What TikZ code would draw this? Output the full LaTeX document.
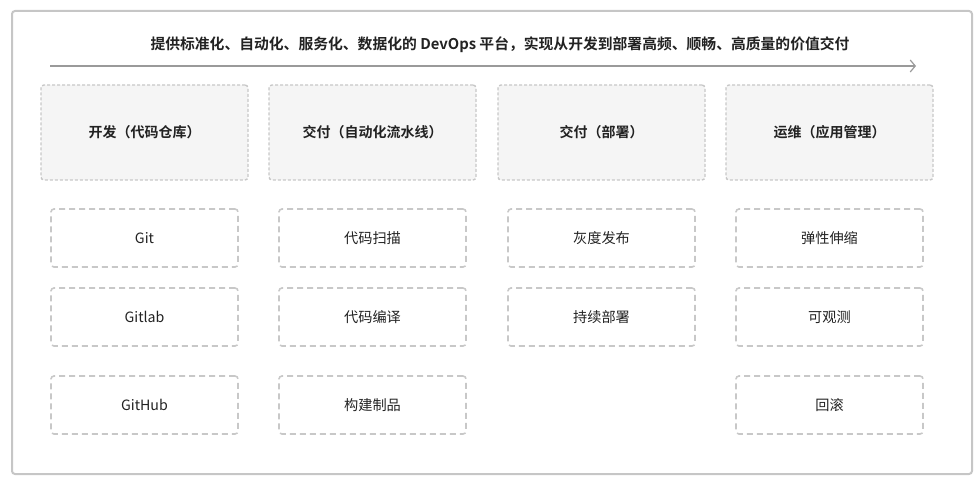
\documentclass[tikz,border=0pt]{standalone}
\usepackage{fontspec}
\setmainfont{Noto Sans CJK SC}[BoldFont={Noto Sans CJK SC Bold}]
\usepackage{tikz}
\usetikzlibrary{positioning,arrows.meta}
\definecolor{framegray}{HTML}{C6C6C6}
\definecolor{boxgray}{HTML}{C8C8C8}
\definecolor{boxfill}{HTML}{F5F5F5}
\definecolor{linegray}{HTML}{9A9A9A}
\definecolor{txt}{HTML}{222222}

\begin{document}
\begin{tikzpicture}[
  x=1pt, y=-1pt,
  stage/.style={draw=boxgray, fill=boxfill, line width=1.4pt, dash pattern=on 3pt off 2pt,
                rounded corners=3pt, minimum width=207pt, minimum height=95pt,
                outer sep=0pt, font=\fontsize{14}{16}\selectfont\bfseries, text=txt},
  item/.style={draw=boxgray, line width=1.6pt, dash pattern=on 6pt off 4pt,
               rounded corners=3pt, minimum width=187pt, minimum height=58pt,
               outer sep=0pt, font=\fontsize{14.2}{16}\selectfont, text=txt},
  flow/.style={-{Straight Barb[length=5pt,width=12pt,line width=1.2pt]}, linegray, line width=1.5pt}
]
\useasboundingbox (0,0) rectangle (979,481);
\draw[framegray, line width=2pt, rounded corners=3pt] (12,11) rectangle (972,474);
\node[font=\fontsize{14.8}{16}\selectfont\bfseries, text=txt] (goal) at (500,45)
  {提供标准化、自动化、服务化、数据化的 DevOps 平台，实现从开发到部署高频、顺畅、高质量的价值交付};
\coordinate (flowA) at (50,66);
\coordinate (flowB) at (916,66);
\draw[flow] (flowA) -- (flowB);
% stages
\node[stage] (dev) at (144.5,132.5) {开发（代码仓库）};
\node[stage] (ci)  at (372.5,132.5) {交付（自动化流水线）};
\node[stage] (cd)  at (601.5,132.5) {交付（部署）};
\node[stage] (ops) at (829.5,132.5) {运维（应用管理）};
% items
\node[item, below=29pt of dev] (git) {Git};
\node[item, below=21pt of git] (gitlab) {Gitlab};
\node[item, below=30pt of gitlab] (github) {GitHub};
\node[item, below=29pt of ci] (scan) {代码扫描};
\node[item, below=21pt of scan] (build) {代码编译};
\node[item, below=30pt of build] (artifact) {构建制品};
\node[item, below=29pt of cd] (gray) {灰度发布};
\node[item, below=21pt of gray] (deploy) {持续部署};
\node[item, below=29pt of ops] (scale) {弹性伸缩};
\node[item, below=21pt of scale] (observe) {可观测};
\node[item, below=30pt of observe] (rollback) {回滚};
\end{tikzpicture}
\end{document}
